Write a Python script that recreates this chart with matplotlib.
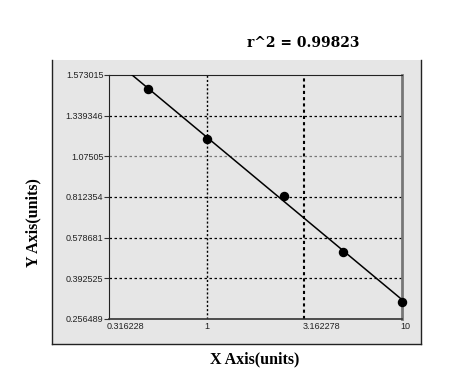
import numpy as np
import matplotlib
matplotlib.use("Agg")
import matplotlib.pyplot as plt
from matplotlib.patches import Rectangle
from matplotlib.lines import Line2D

# concentracoes e leituras
x_conc = [0.5, 1, 2.5, 5, 10]
y_od = [1.491, 1.188, 0.821, 0.515, 0.314]

x_ticks = [0.316228, 1, 3.162278, 10]
x_labels = ["0.316228", "1", "3.162278", "10"]
y_ticks = [0.256489, 0.392525, 0.578681, 0.812354, 1.07505, 1.339346, 1.573015]
y_labels = ["0.256489", "0.392525", "0.578681", "0.812354", "1.07505", "1.339346", "1.573015"]
r2_text = "r^2 = 0.99823"

# escala do eixo y: ticks igualmente espacados
pos = np.arange(len(y_ticks))


def fwd(y):
    return np.interp(y, y_ticks, pos)


def inv(t):
    return np.interp(t, pos, y_ticks)


fig = plt.figure(figsize=(4.51, 3.82), dpi=100)
fig.patch.set_facecolor("white")

# painel cinza de fundo
px0, px1 = 52 / 451, 421 / 451
py0, py1 = 1 - 344 / 382, 1 - 60 / 382
fig.add_artist(Rectangle((px0, py0), px1 - px0, py1 - py0, transform=fig.transFigure,
                         facecolor="#e6e6e6", edgecolor="none", zorder=-2))
for xs, ys in [([px0, px0], [py0, py1]), ([px1, px1], [py0, py1]), ([px0, px1], [py0, py0])]:
    fig.add_artist(Line2D(xs, ys, transform=fig.transFigure, color="#222222", lw=1.0, zorder=-1))

ax = fig.add_axes([109 / 451, 1 - 319 / 382, 293 / 451, 244 / 382])
ax.set_facecolor("none")
ax.set_xscale("log")
ax.set_yscale("function", functions=(fwd, inv))
ax.set_xlim(x_ticks[0], x_ticks[-1])
ax.set_ylim(y_ticks[0], y_ticks[-1])

# linha de ajuste no espaco da escala
u = np.log10(x_conc)
t = fwd(np.array(y_od))
a, b = np.polyfit(u, t, 1)
u_ini = max(np.log10(x_ticks[0]), (pos[-1] - b) / a)
uu = np.linspace(u_ini, np.log10(x_ticks[-1]), 200)
ax.plot(10 ** uu, inv(a * uu + b), color="black", lw=1.1, zorder=3)
ax.plot(x_conc, y_od, "o", color="black", ms=5.8, zorder=4, clip_on=False)

# grades pontilhadas
for xv in x_ticks[1:-1]:
    ax.axvline(xv, color="black", ls=(0, (1.5, 1.5)), lw=1.0 if xv < 2 else 1.5, zorder=1)
for yv in y_ticks[1:-1]:
    ax.axhline(yv, color="black" if yv != 1.07505 else "#777777", ls=(0, (2, 2)), lw=0.9, zorder=1)

ax.set_xticks(x_ticks)
ax.set_xticklabels(x_labels)
ax.xaxis.set_minor_locator(matplotlib.ticker.NullLocator())
ax.set_yticks(y_ticks)
ax.set_yticklabels(y_labels)
ax.yaxis.set_minor_locator(matplotlib.ticker.NullLocator())
ax.tick_params(axis="x", length=0, pad=2, labelsize=6.5, labelcolor="#222222")
ax.tick_params(axis="y", length=3.5, width=0.8, pad=0.5, labelsize=6.5, labelcolor="#222222", color="#333333")
offset = matplotlib.transforms.ScaledTranslation(-2 / 100, 0, fig.dpi_scale_trans)
for lab in ax.get_xticklabels():
    lab.set_horizontalalignment("left")
    lab.set_fontfamily("Liberation Sans")
    lab.set_transform(lab.get_transform() + offset)
for lab in ax.get_yticklabels():
    lab.set_fontfamily("Liberation Sans")

ax.spines["top"].set_color("#222222")
ax.spines["left"].set_color("#222222")
ax.spines["bottom"].set_color("#333333")
ax.spines["right"].set_color("#777777")
ax.spines["right"].set_linewidth(2)
ax.spines["bottom"].set_linewidth(1.2)

fig.text(303 / 451, 1 - 43 / 382, r2_text, ha="center", va="center",
         fontsize=10, family="DejaVu Serif", weight="bold")
fig.text(255 / 451, 1 - 359 / 382, "X Axis(units)", ha="center", va="center",
         fontsize=11.5, family="Liberation Serif", weight="bold")
fig.text(33 / 451, 1 - 223 / 382, "Y Axis(units)", ha="center", va="center",
         fontsize=11.5, family="Liberation Serif", weight="bold", rotation=90)

fig.savefig("out.png", dpi=100)
